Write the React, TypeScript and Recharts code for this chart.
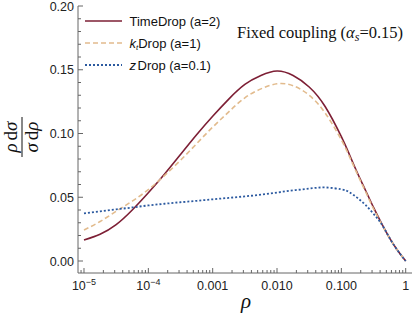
import React from 'react';
import { LineChart, Line, XAxis, YAxis } from 'recharts';

// log10(rho) sample positions
const LOG_RHO = [-5, -4.75, -4.5, -4.25, -4, -3.75, -3.5, -3.25, -3, -2.75, -2.5, -2.25, -2, -1.75, -1.5, -1.25, -1, -0.875, -0.75, -0.625, -0.5, -0.375, -0.25, -0.125, 0];
const TIME_DROP = [0.0165, 0.021, 0.0285, 0.04, 0.0535, 0.068, 0.0835, 0.099, 0.1135, 0.127, 0.1385, 0.1455, 0.149, 0.1455, 0.1365, 0.121, 0.0975, 0.0835, 0.069, 0.0555, 0.042, 0.0295, 0.018, 0.0083, 0];
const KT_DROP = [0.0243, 0.031, 0.039, 0.047, 0.056, 0.067, 0.079, 0.092, 0.105, 0.117, 0.128, 0.135, 0.139, 0.1375, 0.13, 0.116, 0.095, 0.082, 0.068, 0.0545, 0.041, 0.029, 0.0178, 0.0082, 0];
const Z_DROP = [0.0374, 0.039, 0.0405, 0.042, 0.0436, 0.0449, 0.0461, 0.0472, 0.0484, 0.0495, 0.0507, 0.052, 0.0537, 0.0554, 0.0568, 0.0577, 0.0562, 0.054, 0.0495, 0.044, 0.037, 0.029, 0.018, 0.0082, 0];

const X_MAJOR = [1e-5, 1e-4, 1e-3, 1e-2, 1e-1, 1];
const X_MAJOR_LABELS = ['10^-5', '10^-4', '0.001', '0.010', '0.100', '1'];
const Y_MAJOR = [0, 0.05, 0.1, 0.15, 0.2];
const Y_MAJOR_LABELS = ['0.00', '0.05', '0.10', '0.15', '0.20'];

const SERIES_NAMES = ['TimeDrop (a=2)', 'ktDrop (a=1)', 'zDrop (a=0.1)'];
const TITLE = 'Fixed coupling';

const RED = '#7d1f35';
const TAN = '#e2bb8d';
const BLUE = '#2c5aa0';
const FRAME = '#666666';

const data = LOG_RHO.map((l, i) => ({
  rho: Math.pow(10, l),
  time: TIME_DROP[i],
  kt: KT_DROP[i],
  z: Z_DROP[i],
}));

const xTicks: number[] = [9e-6];
for (let k = -5; k <= 0; k++) {
  xTicks.push(Math.pow(10, k));
  if (k < 0) for (let m = 2; m <= 9; m++) xTicks.push(m * Math.pow(10, k));
}
const yTicks: number[] = [];
for (let i = 0; i <= 20; i++) yTicks.push(i / 100);

const majorXIndex = (v: number) => X_MAJOR.findIndex((m) => Math.abs(m - v) / m < 1e-6);
const majorYIndex = (v: number) => Y_MAJOR.findIndex((m) => Math.abs(m - v) < 1e-9);

const LABEL_FONT = 'Liberation Sans, Arial, sans-serif';
const SERIF = 'Liberation Serif, Times New Roman, serif';

const XBottomTick = (props: any) => {
  const { x, y, payload } = props;
  const idx = majorXIndex(payload.value);
  const major = idx >= 0;
  const len = major ? 5 : 3;
  let label: any = null;
  if (major) {
    const s = X_MAJOR_LABELS[idx];
    if (s.startsWith('10^')) {
      label = (
        <text x={x} y={y + 17} textAnchor="middle" fontFamily={LABEL_FONT} fontSize={12.5} fill="#222">
          <tspan>10</tspan>
          <tspan dy={-5} fontSize={9}>{s.slice(3).replace('-', '\u2212')}</tspan>
        </text>
      );
    } else {
      label = (
        <text x={x} y={y + 17} textAnchor="middle" fontFamily={LABEL_FONT} fontSize={12.5} fill="#222">
          {s}
        </text>
      );
    }
  }
  return (
    <g>
      <line x1={x} x2={x} y1={y} y2={y - len} stroke={FRAME} strokeWidth={1} />
      {label}
    </g>
  );
};

const XTopTick = (props: any) => {
  const { x, y, payload } = props;
  const major = majorXIndex(payload.value) >= 0;
  const len = major ? 5 : 3;
  return <line x1={x} x2={x} y1={y} y2={y + len} stroke={FRAME} strokeWidth={1} />;
};

const YLeftTick = (props: any) => {
  const { x, y, payload } = props;
  const idx = majorYIndex(payload.value);
  const major = idx >= 0;
  const len = major ? 5 : 3;
  return (
    <g>
      <line x1={x} x2={x + len} y1={y} y2={y} stroke={FRAME} strokeWidth={1} />
      {major && (
        <text x={x - 4} y={y + 4.5} textAnchor="end" fontFamily={LABEL_FONT} fontSize={12.5} fill="#222">
          {Y_MAJOR_LABELS[idx]}
        </text>
      )}
    </g>
  );
};

const YRightTick = (props: any) => {
  const { x, y, payload } = props;
  const major = majorYIndex(payload.value) >= 0;
  const len = major ? 5 : 3;
  return <line x1={x} x2={x - len} y1={y} y2={y} stroke={FRAME} strokeWidth={1} />;
};

const Overlay = () => (
  <svg width={415} height={320} style={{ position: 'absolute', left: 0, top: 0, pointerEvents: 'none' }}>
    {/* legend */}
    <line x1={85} x2={122} y1={21} y2={21} stroke={RED} strokeWidth={1.6} />
    <text x={129.5} y={25.5} fontFamily={LABEL_FONT} fontSize={13} fill="#111">{SERIES_NAMES[0]}</text>
    <line x1={85} x2={122} y1={43} y2={43} stroke={TAN} strokeWidth={1.6} strokeDasharray="5 3" />
    <text x={129.5} y={47.5} fontFamily={LABEL_FONT} fontSize={13} fill="#111">
      <tspan fontStyle="italic">k</tspan>
      <tspan fontStyle="italic" fontSize={8} dy={2}>t</tspan>
      <tspan dy={-2}>{SERIES_NAMES[1].slice(2)}</tspan>
    </text>
    <line x1={85} x2={122} y1={65} y2={65} stroke={BLUE} strokeWidth={1.8} strokeDasharray="2 2" />
    <text x={129.5} y={69.5} fontFamily={LABEL_FONT} fontSize={13} fill="#111">
      <tspan fontStyle="italic">z</tspan>
      <tspan dx={1.5}>{SERIES_NAMES[2].slice(1)}</tspan>
    </text>
    {/* title */}
    <text x={237} y={37.5} fontFamily={SERIF} fontSize={16.5} fill="#111">
      <tspan>{TITLE} (</tspan>
      <tspan fontStyle="italic">α</tspan>
      <tspan fontStyle="italic" fontSize={12} dy={3}>s</tspan>
      <tspan dy={-3}>=0.15)</tspan>
    </text>
    {/* y label (rotated fraction) */}
    <g transform="translate(22,137) rotate(-90)">
      <text x={0} y={-5} textAnchor="middle" fontFamily={SERIF} fontSize={19} fill="#111">
        <tspan fontStyle="italic">ρ</tspan>
        <tspan dx={3}>d</tspan>
        <tspan fontStyle="italic">σ</tspan>
      </text>
      <line x1={-20} x2={20} y1={0} y2={0} stroke="#111" strokeWidth={1} />
      <text x={0} y={16} textAnchor="middle" fontFamily={SERIF} fontSize={19} fill="#111">
        <tspan fontStyle="italic">σ</tspan>
        <tspan dx={3}>d</tspan>
        <tspan fontStyle="italic">ρ</tspan>
      </text>
    </g>
    {/* x label */}
    <text x={246} y={308} textAnchor="middle" fontFamily={SERIF} fontStyle="italic" fontSize={21} fill="#111">ρ</text>
  </svg>
);

export default function App() {
  return (
    <div style={{ position: 'absolute', left: 0, top: 0, width: 415, height: 320, background: '#fff' }}>
      <LineChart width={415} height={320} data={data} margin={{ top: 6, right: 3, bottom: 17, left: 0 }}>
        <XAxis
          xAxisId="bottom"
          dataKey="rho"
          type="number"
          scale="log"
          domain={[8.07e-6, 1.253]}
          allowDataOverflow
          ticks={xTicks}
          interval={0}
          height={30}
          tickSize={0}
          tickMargin={0}
          tickLine={false}
          axisLine={{ stroke: FRAME, strokeWidth: 1 }}
          tick={<XBottomTick />}
        />
        <XAxis
          xAxisId="top"
          orientation="top"
          dataKey="rho"
          type="number"
          scale="log"
          domain={[8.07e-6, 1.253]}
          allowDataOverflow
          ticks={xTicks}
          interval={0}
          height={0}
          tickSize={0}
          tickMargin={0}
          tickLine={false}
          axisLine={{ stroke: FRAME, strokeWidth: 1 }}
          tick={<XTopTick />}
        />
        <YAxis
          yAxisId="left"
          type="number"
          domain={[-0.0094, 0.2]}
          allowDataOverflow
          ticks={yTicks}
          interval={0}
          width={78}
          tickSize={0}
          tickMargin={0}
          tickLine={false}
          axisLine={{ stroke: FRAME, strokeWidth: 1 }}
          tick={<YLeftTick />}
        />
        <YAxis
          yAxisId="right"
          orientation="right"
          type="number"
          domain={[-0.0094, 0.2]}
          allowDataOverflow
          ticks={yTicks}
          interval={0}
          width={0}
          tickSize={0}
          tickMargin={0}
          tickLine={false}
          axisLine={{ stroke: FRAME, strokeWidth: 1 }}
          tick={<YRightTick />}
        />
        <Line xAxisId="bottom" yAxisId="left" dataKey="time" type="natural" stroke={RED} strokeWidth={1.6} dot={false} isAnimationActive={false} />
        <Line xAxisId="bottom" yAxisId="left" dataKey="kt" type="natural" stroke={TAN} strokeWidth={1.6} strokeDasharray="5 3" dot={false} isAnimationActive={false} />
        <Line xAxisId="bottom" yAxisId="left" dataKey="z" type="natural" stroke={BLUE} strokeWidth={1.8} strokeDasharray="2 2" dot={false} isAnimationActive={false} />
      </LineChart>
      <Overlay />
    </div>
  );
}
